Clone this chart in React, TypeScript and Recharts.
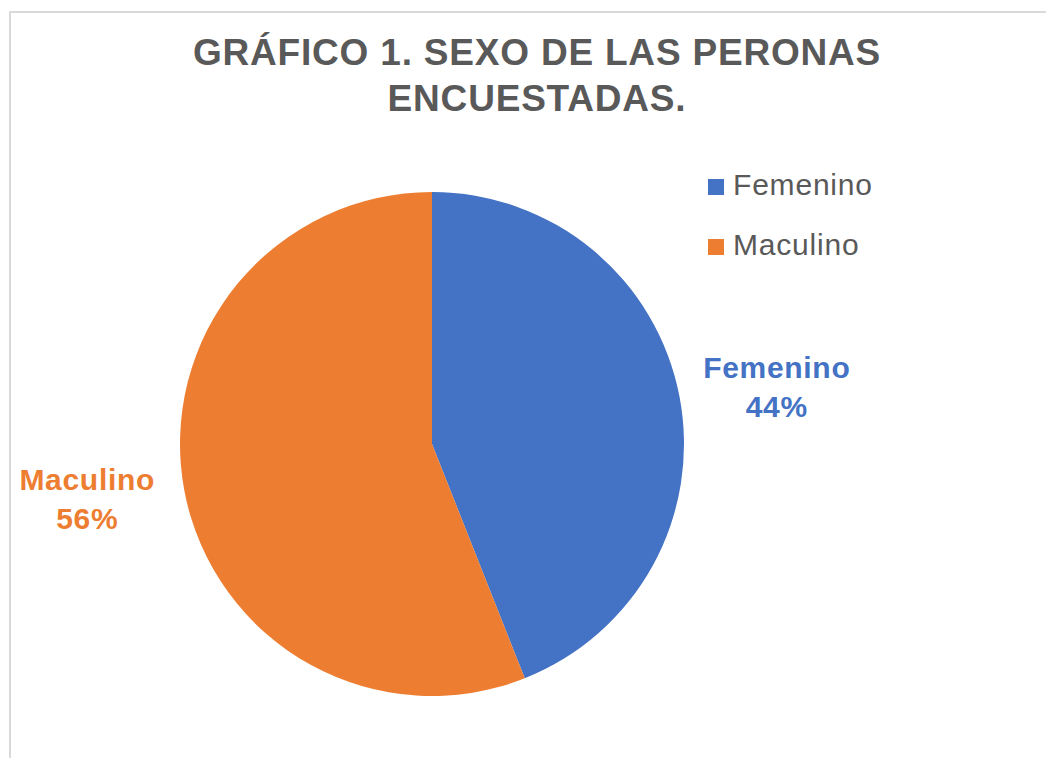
import { PieChart, Pie, Cell, Legend } from "recharts";

const categories = ["Femenino", "Maculino"];
const values = [44, 56];
const colors = ["#4472C4", "#ED7D31"];

const data = categories.map((name, i) => ({ name, value: values[i] }));

const RAD = Math.PI / 180;
const FONT = "'Liberation Sans', Arial, sans-serif";

const renderLabel = (props: any) => {
  const { cx, cy, midAngle, outerRadius, name, percent, index } = props;
  const x = cx + (outerRadius + 99) * Math.cos(-midAngle * RAD);
  const y = cy + (outerRadius + 48) * Math.sin(-midAngle * RAD);
  return (
    <text
      textAnchor="middle"
      fill={colors[index]}
      fontFamily={FONT}
      fontWeight="bold"
      fontSize={30}
      letterSpacing={0.7}
    >
      <tspan x={x} y={y - 10}>
        {name}
      </tspan>
      <tspan x={x} y={y + 29}>
        {`${Math.round(percent * 100)}%`}
      </tspan>
    </text>
  );
};

const renderLegend = (props: any) => {
  const { payload } = props;
  return (
    <div style={{ fontFamily: FONT }}>
      {payload.map((entry: any, i: number) => (
        <div
          key={`leg-${i}`}
          style={{
            display: "flex",
            alignItems: "center",
            height: 60,
            fontSize: 30,
            letterSpacing: 0.8,
            color: "#595959",
          }}
        >
          <span
            style={{
              display: "inline-block",
              width: 16,
              height: 16,
              background: entry.color,
              marginRight: 9,
              marginTop: 4,
            }}
          />
          {entry.value}
        </div>
      ))}
    </div>
  );
};

const App = () => {
  return (
    <div
      style={{
        position: "fixed",
        left: 0,
        top: 0,
        width: 1046,
        height: 758,
        overflow: "hidden",
        background: "#fff",
      }}
    >
      <div
        style={{
          position: "absolute",
          left: 9,
          top: 11,
          width: 1060,
          height: 760,
          borderLeft: "2px solid #d9d9d9",
          borderTop: "2px solid #d9d9d9",
        }}
      >
        <div
          style={{
            position: "absolute",
            left: 0,
            top: 17,
            width: 1052,
            textAlign: "center",
            fontFamily: FONT,
            fontWeight: "bold",
            fontSize: 37,
            letterSpacing: 0.8,
            lineHeight: "46px",
            color: "#595959",
          }}
        >
          GRÁFICO 1. SEXO DE LAS PERONAS
          <br />
          ENCUESTADAS.
        </div>
        <PieChart
          width={1056}
          height={745}
          margin={{ top: 0, right: 0, bottom: 0, left: 0 }}
        >
          <Pie
            data={data}
            dataKey="value"
            nameKey="name"
            cx={421}
            cy={431}
            outerRadius={252}
            startAngle={90}
            endAngle={-270}
            stroke="none"
            label={renderLabel}
            labelLine={false}
            isAnimationActive={false}
          >
            {data.map((entry, index) => (
              <Cell key={`cell-${index}`} fill={colors[index]} />
            ))}
          </Pie>
          <Legend
            layout="vertical"
            verticalAlign="top"
            align="right"
            content={renderLegend}
            wrapperStyle={{ left: 697, top: 142, width: 250 }}
          />
        </PieChart>
      </div>
    </div>
  );
};

export default App;
